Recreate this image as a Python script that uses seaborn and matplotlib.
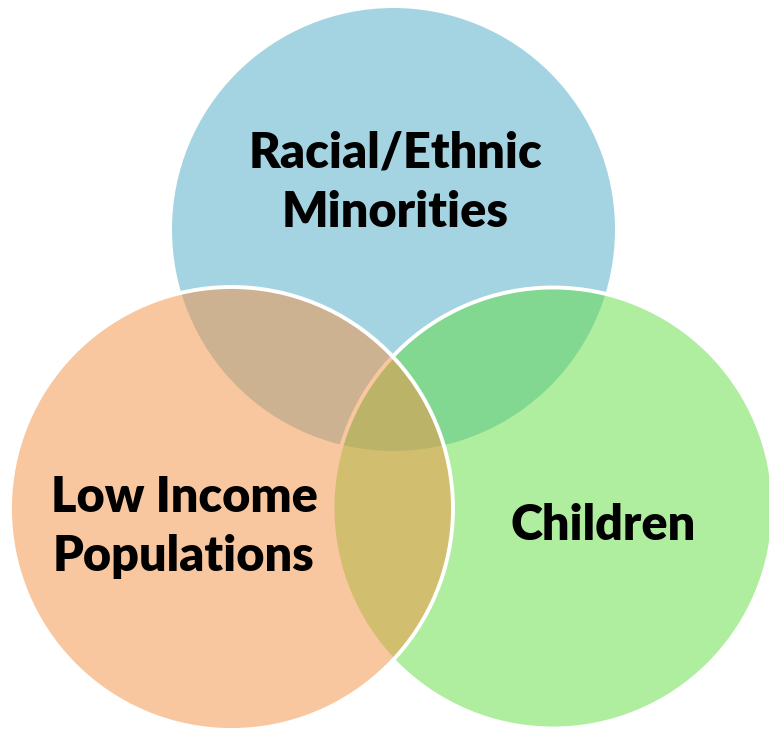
import matplotlib
matplotlib.use("Agg")
import matplotlib.pyplot as plt
from matplotlib.patches import Circle
import seaborn as sns

# Data
set_labels = ["Racial/Ethnic\nMinorities", "Children", "Low Income\nPopulations"]
set_colors = ["#4BABC5", "#61DD41", "#F59141"]   # drawn at alpha 0.5
set_alpha = 0.5
edge_colors = ["none", "white", "white"]

sns.set_theme(style="white")
plt.rcParams["font.family"] = ["Lato", "DejaVu Sans"]

W, H = 769, 731
fig = plt.figure(figsize=(W / 100, H / 100), dpi=100)
ax = fig.add_axes([0, 0, 1, 1])
ax.set_xlim(0, W)
ax.set_ylim(H, 0)
ax.set_aspect("equal")
ax.axis("off")

# layout: (center x, center y, radius) in pixel-like units
layout = [(393.5, 229.5, 221.5), (553, 508, 220.5), (231.5, 508.5, 221.5)]
text_pos = [(395, 183), (603, 525), (184, 527)]

for (cx, cy, r), col, ec, z in zip(layout, set_colors, edge_colors, [1, 2, 3]):
    rgb = matplotlib.colors.to_rgb(col)
    ax.add_patch(Circle((cx, cy), r, facecolor=(*rgb, set_alpha),
                        edgecolor=ec, linewidth=2.8 if ec != "none" else 0,
                        zorder=z))

for lab, (tx, ty) in zip(set_labels, text_pos):
    ax.text(tx, ty, lab, ha="center", va="center", fontsize=35,
            fontweight="heavy", color="black", linespacing=1.38, zorder=10)

fig.savefig("out.png", dpi=100, facecolor="white")
